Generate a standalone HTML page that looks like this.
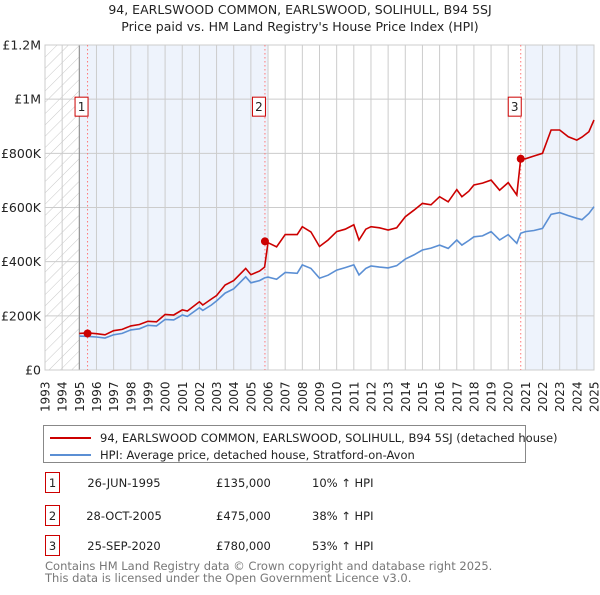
<!DOCTYPE html>
<html><head><meta charset="utf-8"><style>
body{margin:0;background:#fff;font-family:"Liberation Sans","DejaVu Sans",sans-serif;}
svg text{font-family:"DejaVu Sans","Liberation Sans",sans-serif;}
</style></head><body>
<svg id="chart" width="600" height="590" xmlns="http://www.w3.org/2000/svg">
<defs><pattern id="hatch" width="8" height="8" patternUnits="userSpaceOnUse" patternTransform="rotate(45)"><line x1="0" y1="0" x2="0" y2="8" stroke="#c8c8c8" stroke-width="1"/></pattern></defs>
<text x="300" y="14" text-anchor="middle" font-size="12.5" fill="#222">94, EARLSWOOD COMMON, EARLSWOOD, SOLIHULL, B94 5SJ</text>
<text x="300" y="31" text-anchor="middle" font-size="12.5" fill="#222">Price paid vs. HM Land Registry's House Price Index (HPI)</text>
<g id="plot"></g>
<g>
<rect x="43.5" y="425.5" width="482" height="37" fill="#fff" stroke="#888"/>
<line x1="50" y1="438" x2="91" y2="438" stroke="#cc0000" stroke-width="2"/>
<text x="100" y="442" font-size="11.5" fill="#222">94, EARLSWOOD COMMON, EARLSWOOD, SOLIHULL, B94 5SJ (detached house)</text>
<line x1="50" y1="455" x2="91" y2="455" stroke="#5b8fd4" stroke-width="2"/>
<text x="100" y="459" font-size="11.5" fill="#222">HPI: Average price, detached house, Stratford-on-Avon</text>
</g>
<g font-size="11.5" fill="#222">
<rect x="45.5" y="472.5" width="14" height="20" fill="#fff" stroke="#cc0000"/><text x="52.5" y="487" text-anchor="middle">1</text>
<text x="124" y="487" text-anchor="middle">26-JUN-1995</text><text x="216" y="487">£135,000</text><text x="312" y="487">10% ↑ HPI</text>
<rect x="45.5" y="505.5" width="14" height="20" fill="#fff" stroke="#cc0000"/><text x="52.5" y="520" text-anchor="middle">2</text>
<text x="124" y="520" text-anchor="middle">28-OCT-2005</text><text x="216" y="520">£475,000</text><text x="312" y="520">38% ↑ HPI</text>
<rect x="45.5" y="535.5" width="14" height="20" fill="#fff" stroke="#cc0000"/><text x="52.5" y="550" text-anchor="middle">3</text>
<text x="124" y="550" text-anchor="middle">25-SEP-2020</text><text x="216" y="550">£780,000</text><text x="312" y="550">53% ↑ HPI</text>
</g>
<text x="45" y="570" font-size="11.5" fill="#777">Contains HM Land Registry data © Crown copyright and database right 2025.</text>
<text x="45" y="582" font-size="11.5" fill="#777">This data is licensed under the Open Government Licence v3.0.</text>
</svg>
<script>
const years=[1995,1995.5,1996,1996.5,1997,1997.5,1998,1998.5,1999,1999.5,2000,2000.5,2001,2001.3,2002,2002.2,2002.7,2003,2003.5,2004,2004.7,2005,2005.5,2005.8,2006,2006.5,2007,2007.7,2008,2008.5,2009,2009.5,2010,2010.5,2011,2011.3,2011.7,2012,2012.5,2013,2013.5,2014,2014.5,2015,2015.5,2016,2016.5,2017,2017.3,2017.7,2018,2018.5,2019,2019.5,2020,2020.5,2020.73,2021,2021.5,2022,2022.5,2023,2023.5,2024,2024.3,2024.7,2025];
const hpiValues=[125,124,122,118,130,135,148,152,165,163,187,185,203,198,230,220,240,255,284,300,344,322,330,340,343,335,360,357,388,375,339,350,369,378,388,351,375,384,380,377,385,410,425,443,450,461,449,480,461,478,492,495,511,480,500,468,505,511,515,523,575,581,570,560,555,578,603];
const priceValues=[135,137,134,130,145,150,163,168,180,178,205,203,222,218,252,240,262,275,314,330,375,352,365,380,470,455,500,500,529,510,456,480,511,520,536,480,520,529,525,517,525,566,590,615,610,640,621,666,640,660,683,690,701,664,692,646,780,780,790,800,886,886,861,849,860,880,923];
const sales=[[1995.48,135],[2005.82,475],[2020.73,780]];
const yTicks=[0,200,400,600,800,1000,1200];
const yTickLabels=["£0","£200K","£400K","£600K","£800K","£1M","£1.2M"];
const xTicks=[1993,1994,1995,1996,1997,1998,1999,2000,2001,2002,2003,2004,2005,2006,2007,2008,2009,2010,2011,2012,2013,2014,2015,2016,2017,2018,2019,2020,2021,2022,2023,2024,2025];
const L=45,R=594,T=45,B=370;
const xs=y=>L+(y-1993)/(2025-1993)*(R-L);
const ys=v=>B-v/1200*(B-T);
const NS="http://www.w3.org/2000/svg";
const g=document.getElementById('plot');
function mk(tag,attrs){const e=document.createElementNS(NS,tag);for(const k in attrs)e.setAttribute(k,attrs[k]);g.appendChild(e);return e;}
let e;
e=mk('rect',{x:L,y:T,width:xs(1995)-L,height:B-T,fill:'url(#hatch)'});


e=mk('rect',{x:xs(1995),y:T,width:xs(2006)-xs(1995),height:B-T,fill:'#eef3fc'});


e=mk('rect',{x:xs(2021),y:T,width:R-xs(2021),height:B-T,fill:'#eef3fc'});


xTicks.forEach(t=>{e=mk('line',{x1:xs(t),x2:xs(t),y1:T,y2:B,stroke:'#cccccc'});


e=mk('text',{x:0,y:0,transform:`translate(${xs(t)+4.5},${B+42}) rotate(-90)`,'font-size':'12',fill:'#222'});e.textContent=t;

});
yTicks.forEach((t,i)=>{e=mk('line',{x1:L,x2:R,y1:ys(t),y2:ys(t),stroke:'#cccccc'});


e=mk('text',{x:L-4,y:ys(t)+4.5,'text-anchor':'end','font-size':'12.5',fill:'#222'});e.textContent=yTickLabels[i];

});
e=mk('line',{x1:xs(1995),x2:xs(1995),y1:T,y2:B,stroke:'#888'});


e=mk('rect',{x:L,y:T,width:R-L,height:B-T,fill:'none',stroke:'#cccccc'});


sales.forEach((s,i)=>{e=mk('line',{x1:xs(s[0]),x2:xs(s[0]),y1:T,y2:B,stroke:'#ff7777','stroke-dasharray':'1.5,2.5'});


e=mk('rect',{x:xs(s[0])-12.5,y:ys(1000)-2,width:13,height:19,fill:'#fff',stroke:'#cc0000'});


e=mk('text',{x:xs(s[0])-6,y:ys(1000)+12,'text-anchor':'middle','font-size':'12',fill:'#222'});e.textContent=i+1;

});
const path=v=>years.map((y,i)=>(i?'L':'M')+xs(y).toFixed(1)+','+ys(v[i]).toFixed(1)).join('');
e=mk('path',{d:path(hpiValues),fill:'none',stroke:'#5b8fd4','stroke-width':1.6});


e=mk('path',{d:path(priceValues),fill:'none',stroke:'#cc0000','stroke-width':1.6});


sales.forEach(s=>{e=mk('circle',{cx:xs(s[0]),cy:ys(s[1]),r:4,fill:'#cc0000'});

});
</script>
</body></html>
